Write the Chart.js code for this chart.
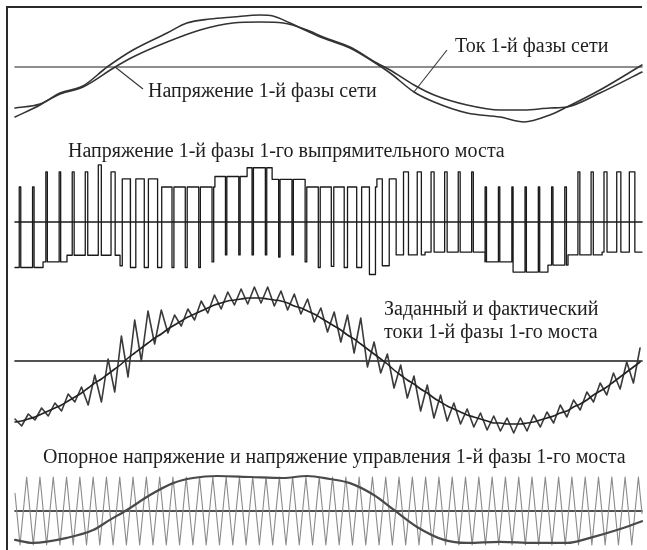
<!DOCTYPE html>
<html>
<head>
<meta charset="utf-8">
<script src="https://cdn.jsdelivr.net/npm/chart.js@4.4.1/dist/chart.umd.min.js"></script>
<style>
  html, body { margin: 0; padding: 0; background: #fff; }
  #sheet { position: relative; width: 647px; height: 550px; overflow: hidden; background: #fff; }
  #frame { position: absolute; left: 6px; top: 6px; width: 634px; height: 560px;
           border-left: 2px solid #2a2a2a; border-top: 2px solid #2a2a2a; }
  canvas { position: absolute; }
  .lbl { position: absolute; font-family: "Liberation Serif", "Times New Roman", serif;
         font-size: 20px; line-height: 20px; color: #1e1e1e; white-space: nowrap; }
</style>
</head>
<body>
<div id="sheet">
  <div id="frame"></div>
  <canvas id="p1"></canvas>
  <canvas id="p2"></canvas>
  <canvas id="p3"></canvas>
  <canvas id="p4"></canvas>
  <div class="lbl" style="left:148px; top:80px;">Напряжение 1-й фазы сети</div>
  <div class="lbl" style="left:455px; top:35px;">Ток 1-й фазы сети</div>
  <div class="lbl" style="left:68px; top:140px;">Напряжение 1-й фазы 1-го выпрямительного моста</div>
  <div class="lbl" style="left:384px; top:298px;">Заданный и фактический</div>
  <div class="lbl" style="left:384px; top:321px;">токи 1-й фазы 1-го моста</div>
  <div class="lbl" style="left:43px; top:446px;">Опорное напряжение и напряжение управления 1-й фазы 1-го моста</div>
</div>
<script>
// ---- time base (ms) shared by all four traces ----
const T_MIN = 0, T_MAX = 22.8;
const PWM_HALF = 0.2418;       // half of the PWM carrier period, ms
const CARRIER_FIRST = 0.182;   // first carrier vertex, ms

// ---- 1: mains phase current and phase voltage (p.u.) ----
const CURRENT_T = [0,0.91,1.64,2.47,3.35,4.29,5.53,6.25,7.09,7.93,8.91,9.38,10.0,10.62,11.2,12.18,13.16,13.64,14.51,15.24,16.44,17.64,18.51,19.45,20.07,21.27,22.8];
const CURRENT   = [-1.0,-0.76,-0.52,-0.38,0,0.34,0.68,0.88,0.96,1.0,1.04,1.02,0.88,0.72,0.58,0.38,0.06,-0.12,-0.5,-0.7,-0.92,-1.0,-1.1,-0.96,-0.8,-0.46,0.04];
const VOLTAGE_T = [0,0.91,1.64,2.47,3.64,4.29,5.53,6.73,7.93,8.91,9.75,10.62,11.2,12.18,13.16,13.64,14.51,15.24,16.44,17.64,18.51,19.45,20.07,21.27,22.8];
const VOLTAGE   = [-0.82,-0.74,-0.54,-0.4,0,0.2,0.5,0.74,0.88,0.9,0.88,0.74,0.6,0.4,0.08,-0.06,-0.36,-0.56,-0.76,-0.86,-0.86,-0.82,-0.8,-0.52,-0.1];

// ---- 2: bridge phase voltage (p.u.): base level steps plus PWM pulses ----
const BASE_T = [0,1.02,1.89,3.82,4.22,5.27,7.27,8.44,9.35,10.55,13.16,13.64,14.91,17.09,18.07,19.38,20.11,21.35];
const BASE_V = [-1.3,-1.14,-0.95,-1.25,1.23,1.0,1.3,1.55,1.22,1.0,1.23,-0.94,-0.86,-1.14,-1.43,-1.23,-0.94,-0.86];
const PULSE_T = [0.182,0.666,1.149,1.633,2.116,2.6,3.084,3.567,4.051,
                 4.293,4.776,5.26,5.744,6.227,6.711,7.195,7.678,8.162,8.645,9.129,9.613,10.096,10.58,11.064,11.547,12.031,12.515,12.998,13.482,
                 13.735,14.218,14.702,15.185,15.669,16.153,16.636,17.12,17.604,18.087,18.571,19.055,19.538,20.022,20.505,20.989,21.473,21.956,22.44];
const PULSE_V = [1.0,1.0,1.43,1.43,1.43,1.43,1.63,1.43,1.23,
                 -1.3,-1.3,-1.3,-1.3,-1.3,-1.3,-1.14,-0.94,-0.94,-0.94,-0.94,-1.0,-0.94,-1.14,-1.3,-1.27,-1.3,-1.3,-1.5,-1.25,
                 1.23,1.43,1.43,1.43,1.43,1.43,1.43,1.0,1.0,1.0,1.0,1.0,1.0,1.0,1.43,1.43,1.43,1.43,1.43];
const PULSE_W = [0.055,0.055,0.055,0.055,0.07,0.09,0.11,0.15,0.3,
                 0.2,0.15,0.15,0.07,0.07,0.06,0.06,0.05,0.05,0.05,0.05,0.05,0.05,0.06,0.07,0.09,0.12,0.18,0.22,0.25,
                 0.25,0.18,0.15,0.11,0.09,0.07,0.06,0.05,0.05,0.05,0.05,0.05,0.05,0.06,0.07,0.08,0.11,0.15,0.2];

// ---- 3: reference and measured bridge current (A), sampled every PWM_HALF ----
const I_REF = [-61,-60,-58,-56,-53,-50,-47,-44,-40,-36,
               -32,-27,-22,-18,-13,-8,-3,3,8,13,
               18,23,27,32,36,40,44,47,50,53,
               56,58,60,61,62,63,63,63,62,61,
               60,58,55,53,50,47,43,39,35,31,
               26,22,17,12,7,2,-3,-9,-14,-19,
               -23,-28,-32,-37,-41,-45,-48,-51,-54,-56,
               -58,-60,-62,-62,-63,-63,-63,-62,-61,-59,
               -57,-55,-52,-50,-46,-43,-39,-34,-30,-26,
               -21,-16,-11,-6,-1];
const I_ACT = [-58,-65,-53,-59,-47,-55,-42,-50,-33,-41,
               -26,-44,-14,-41,2,-31,25,-16,41,0,
               50,17,51,28,46,35,52,41,60,48,
               66,52,69,56,72,57,74,58,74,55,
               70,51,67,47,62,39,53,29,49,19,
               46,8,43,-6,19,-12,7,-27,-4,-37,
               -15,-50,-24,-57,-34,-60,-42,-63,-48,-66,
               -52,-69,-55,-70,-57,-72,-57,-70,-54,-66,
               -51,-62,-44,-56,-39,-49,-31,-41,-22,-34,
               -12,-28,-1,-22,13];

// ---- 4: carrier (triangle vertices) and control voltage (p.u.) ----
const CARRIER_START = 0.52, CARRIER_END = -0.07;
const CARRIER = [-1,1,-1,1,-1,1,-1,1,-1,1,-1,1,-1,1,-1,1,-1,1,-1,1,
                 -1,1,-1,1,-1,1,-1,1,-1,1,-1,1,-1,1,-1,1,-1,1,-1,1,
                 -1,1,-1,1,-1,1,-1,1,-1,1,-1,1,-1,1,-1,1,-1,1,-1,1,
                 -1,1,-1,1,-1,1,-1,1,-1,1,-1,1,-1,1,-1,1,-1,1,-1,1,
                 -1,1,-1,1,-1,1,-1,1,-1,1,-1,1,-1,1];
const CTRL_T = [0,0.65,1.89,2.84,3.45,4.07,4.91,5.75,6.47,7.35,8.55,9.75,10.62,11.45,12.18,13.05,13.78,14.62,15.6,16.44,17.64,18.87,20.07,20.91,21.89,22.8];
const CTRL   = [-0.85,-0.94,-0.79,-0.56,-0.26,0.03,0.47,0.82,0.97,1.03,1.0,0.97,1.03,0.94,0.82,0.47,0.03,-0.47,-0.85,-0.94,-0.91,-0.94,-0.94,-0.79,-0.56,-0.3];

// ---- helpers ----
const zip = (ts, vs) => vs.map((v, i) => ({ x: ts[i], y: v }));
const zeroLine = (color) => ({ data: [{ x: T_MIN, y: 0 }, { x: T_MAX, y: 0 }],
  borderColor: color, borderWidth: 1.6, order: 10, clip: false });

function baseLevel(t) {
  let v = BASE_V[0];
  for (let i = 0; i < BASE_T.length; i++) if (t >= BASE_T[i]) v = BASE_V[i];
  return v;
}
function pwmSeries() {
  const edges = new Set([T_MIN, T_MAX, ...BASE_T]);
  PULSE_T.forEach((c, i) => { edges.add(c - PULSE_W[i] / 2); edges.add(c + PULSE_W[i] / 2); });
  const ts = [...edges].filter(t => t >= T_MIN && t <= T_MAX).sort((a, b) => a - b);
  const pts = [];
  for (let i = 0; i < ts.length - 1; i++) {
    const a = ts[i], b = ts[i + 1], m = (a + b) / 2;
    let v = baseLevel(m);
    PULSE_T.forEach((c, k) => { if (Math.abs(m - c) < PULSE_W[k] / 2) v = PULSE_V[k]; });
    pts.push({ x: a, y: v }, { x: b, y: v });
  }
  return pts;
}
function carrierSeries() {
  const pts = [{ x: T_MIN, y: CARRIER_START }];
  CARRIER.forEach((v, i) => pts.push({ x: CARRIER_FIRST + i * PWM_HALF, y: v }));
  pts.push({ x: T_MAX, y: CARRIER_END });
  return pts;
}
const sampled = (vs) => vs.map((v, i) => ({ x: i * PWM_HALF, y: v }));

const PAD = 4;
const PLOT_LEFT = 15, PLOT_RIGHT = 642;
function panel(id, zeroY, pxPerUnit, yMin, yMax, datasets, plugins) {
  const c = document.getElementById(id);
  const w = PLOT_RIGHT - PLOT_LEFT + 2 * PAD;
  const h = Math.round(pxPerUnit * (yMax - yMin)) + 2 * PAD;
  const left = PLOT_LEFT - PAD, top = zeroY - pxPerUnit * yMax - PAD;
  c.width = w; c.height = h;
  c.style.left = left + 'px'; c.style.top = top + 'px';
  return new Chart(c, {
    type: 'line',
    data: { datasets },
    options: {
      responsive: false, animation: false, devicePixelRatio: 1, events: [],
      layout: { padding: PAD },
      plugins: { legend: { display: false }, tooltip: { enabled: false } },
      elements: { point: { radius: 0 }, line: { borderCapStyle: 'round', borderJoinStyle: 'round' } },
      scales: {
        x: { type: 'linear', min: T_MIN, max: T_MAX, display: false },
        y: { type: 'linear', min: yMin, max: yMax, display: false }
      }
    },
    plugins: (plugins || []).map(p => Object.assign({ offset: { left, top } }, p))
  });
}

// leader lines from the two labels of panel 1 to their curves
const calloutPlugin = {
  id: 'callouts',
  afterDatasetsDraw(chart, args, opts) {
    const ctx = chart.ctx, xs = chart.scales.x, ys = chart.scales.y;
    const off = this.offset;
    const marks = [
      { ds: 1, idx: 4, from: [143, 89] },
      { ds: 0, idx: 18, from: [447, 50] }
    ];
    ctx.save();
    ctx.strokeStyle = '#333'; ctx.lineWidth = 1.1;
    marks.forEach(m => {
      const p = chart.data.datasets[m.ds].data[m.idx];
      ctx.beginPath();
      ctx.moveTo(m.from[0] - off.left, m.from[1] - off.top);
      ctx.lineTo(xs.getPixelForValue(p.x), ys.getPixelForValue(p.y));
      ctx.stroke();
    });
    ctx.restore();
  }
};

panel('p1', 67, 50, -1.4, 1.2, [
  { data: zip(CURRENT_T, CURRENT), borderColor: '#333', borderWidth: 1.6, cubicInterpolationMode: 'monotone', clip: false },
  { data: zip(VOLTAGE_T, VOLTAGE), borderColor: '#333', borderWidth: 1.6, cubicInterpolationMode: 'monotone', clip: false },
  zeroLine('#6a6a6a')
], [calloutPlugin]);

panel('p2', 222, 35, -1.8, 1.8, [
  { data: pwmSeries(), borderColor: '#1a1a1a', borderWidth: 1.3, tension: 0, clip: false },
  zeroLine('#1a1a1a')
]);

panel('p3', 361, 1, -80, 80, [
  { data: sampled(I_REF), borderColor: '#222', borderWidth: 1.6, cubicInterpolationMode: 'monotone', clip: false },
  { data: sampled(I_ACT), borderColor: '#3a3a3a', borderWidth: 1.6, tension: 0, clip: false },
  zeroLine('#1a1a1a')
]);

panel('p4', 511, 34, -1.5, 1.5, [
  { data: zip(CTRL_T, CTRL), borderColor: '#4a4a4a', borderWidth: 2.2, cubicInterpolationMode: 'monotone', clip: false },
  { data: carrierSeries(), borderColor: '#8a8a8a', borderWidth: 1.1, tension: 0, clip: false },
  zeroLine('#1a1a1a')
]);
</script>
</body>
</html>
